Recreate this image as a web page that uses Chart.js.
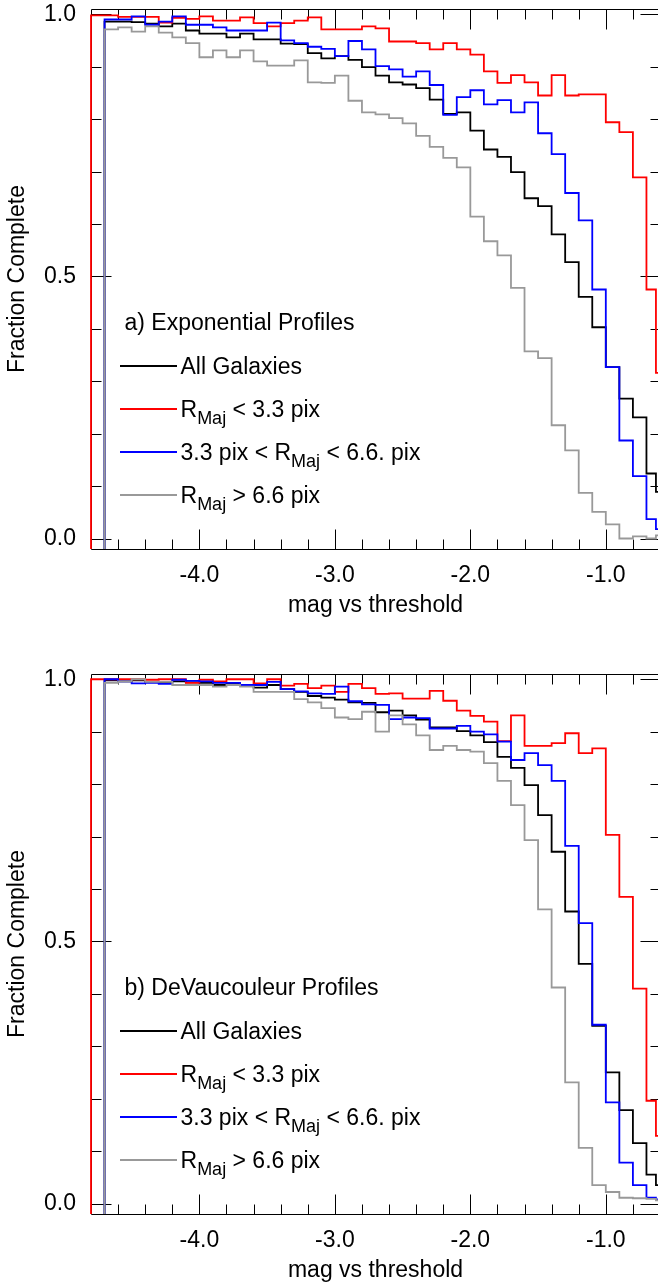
<!DOCTYPE html>
<html>
<head>
<meta charset="utf-8">
<script src="https://cdn.jsdelivr.net/npm/chart.js@4.4.1/dist/chart.umd.min.js"></script>
<style>
  html, body { margin: 0; padding: 0; background: #fff; width: 658px; height: 1286px; overflow: hidden; }
  .panel { position: absolute; left: 0; width: 662px; height: 640px; }
  .panel canvas { position: absolute; left: 0; top: 0; }
  .leg { position: absolute; font-family: "Liberation Sans", Arial, Helvetica, sans-serif; font-size: 23px; line-height: 23px; color: #000; white-space: nowrap; }
  .sub { font-size: 18px; position: relative; top: 7px; }
</style>
</head>
<body>
<div class="panel" id="p1" style="top:0px"><canvas id="c1" width="662" height="640"></canvas></div>
<div class="panel" id="p2" style="top:665px"><canvas id="c2" width="662" height="640"></canvas></div>
<script>
// ---------------- data ----------------
// left edges of the magnitude bins (mag vs threshold); last bin is partial
const BIN_EDGES = [-4.8, -4.7, -4.6, -4.5, -4.4, -4.3, -4.2, -4.1, -4.0, -3.9, -3.8, -3.7, -3.6, -3.5,
  -3.4, -3.3, -3.2, -3.1, -3.0, -2.9, -2.8, -2.7, -2.6, -2.5, -2.4, -2.3, -2.2, -2.1, -2.0, -1.9,
  -1.8, -1.7, -1.6, -1.5, -1.4, -1.3, -1.2, -1.1, -1.0, -0.9, -0.8, -0.7, -0.63];
const X_MIN = -4.8, X_MAX = -0.6;
const Y_MIN = -0.02, Y_MAX = 1.01;
const X_TICK_LABELS = [-4.0, -3.0, -2.0, -1.0];
const Y_TICK_LABELS = [0.0, 0.5, 1.0];

// a) Exponential profiles
const EXP_ALL   = [null, 0.986, 0.986, 0.985, 0.982, 0.977, 0.982, 0.969, 0.963, 0.963, 0.956, 0.963, 0.952, 0.952,
  0.944, 0.943, 0.926, 0.916, 0.920, 0.913, 0.899, 0.883, 0.870, 0.866, 0.859, 0.837, 0.810, 0.813, 0.778, 0.742,
  0.728, 0.699, 0.649, 0.634, 0.580, 0.527, 0.461, 0.403, 0.327, 0.267, 0.231, 0.124, 0.089];
const EXP_SMALL = [0.998, 0.998, 0.995, 0.995, 0.995, 0.984, 0.993, 0.991, 0.996, 0.988, 0.988, 0.994, 0.983, 0.977,
  0.983, 0.988, 0.994, 0.971, 0.971, 0.971, 0.977, 0.973, 0.948, 0.948, 0.945, 0.933, 0.945, 0.933, 0.923, 0.891,
  0.869, 0.884, 0.870, 0.845, 0.884, 0.845, 0.847, 0.847, 0.794, 0.775, 0.689, 0.475, 0.316];
const EXP_MID   = [null, 0.990, 0.990, 0.996, 0.980, 0.986, 0.996, 0.980, 0.980, 0.975, 0.969, 0.969, 0.969, 0.984,
  0.950, 0.945, 0.938, 0.934, 0.920, 0.949, 0.933, 0.901, 0.895, 0.881, 0.891, 0.865, 0.808, 0.842, 0.855, 0.828,
  0.836, 0.813, 0.832, 0.773, 0.733, 0.659, 0.607, 0.475, 0.327, 0.187, 0.119, 0.037, 0.018];
const EXP_LARGE = [null, 0.971, 0.975, 0.967, 0.977, 0.965, 0.956, 0.945, 0.918, 0.931, 0.918, 0.931, 0.910, 0.902,
  0.902, 0.912, 0.870, 0.869, 0.883, 0.835, 0.813, 0.809, 0.802, 0.792, 0.768, 0.747, 0.726, 0.708, 0.614, 0.567,
  0.540, 0.478, 0.357, 0.344, 0.216, 0.168, 0.087, 0.051, 0.027, 0.000, 0.004, 0.000, 0.006];

// b) DeVaucouleur profiles
const DEV_ALL   = [null, 0.998, 0.996, 0.998, 0.995, 0.993, 0.996, 0.994, 0.993, 0.989, 0.992, 0.989, 0.984, 0.989,
  0.981, 0.976, 0.968, 0.965, 0.961, 0.956, 0.955, 0.937, 0.940, 0.931, 0.923, 0.908, 0.908, 0.901, 0.893, 0.880,
  0.852, 0.831, 0.798, 0.741, 0.671, 0.557, 0.457, 0.339, 0.250, 0.178, 0.115, 0.055, 0.035];
const DEV_SMALL = [1.000, 1.000, 1.000, 1.000, 0.999, 1.000, 1.000, 0.993, 0.999, 0.996, 1.000, 1.000, 0.992, 1.000,
  0.988, 0.991, 0.983, 0.988, 0.976, 0.991, 0.983, 0.972, 0.973, 0.963, 0.963, 0.978, 0.959, 0.940, 0.930, 0.919,
  0.882, 0.931, 0.873, 0.873, 0.878, 0.897, 0.859, 0.868, 0.703, 0.585, 0.410, 0.196, 0.129];
const DEV_MID   = [null, 1.000, 0.996, 0.992, 0.993, 0.991, 0.999, 0.997, 0.996, 0.993, 0.993, 0.989, 0.989, 0.995,
  0.981, 0.977, 0.973, 0.972, 0.986, 0.958, 0.952, 0.951, 0.924, 0.927, 0.926, 0.906, 0.906, 0.911, 0.900, 0.895,
  0.881, 0.846, 0.859, 0.836, 0.806, 0.682, 0.535, 0.341, 0.193, 0.078, 0.035, 0.011, 0.008];
const DEV_LARGE = [null, 0.993, 0.996, 1.000, 0.995, 0.995, 0.989, 0.989, 0.989, 0.986, 0.989, 0.986, 0.976, 0.976,
  0.976, 0.962, 0.956, 0.945, 0.927, 0.924, 0.938, 0.900, 0.931, 0.914, 0.893, 0.865, 0.873, 0.865, 0.862, 0.840,
  0.806, 0.760, 0.693, 0.561, 0.412, 0.231, 0.106, 0.035, 0.022, 0.011, 0.010, 0.009, 0.006];

const SERIES_NAMES = ['All Galaxies', 'R_Maj < 3.3 pix', '3.3 pix < R_Maj < 6.6. pix', 'R_Maj > 6.6 pix'];
const SERIES_COLORS = ['#000000', '#ff0000', '#0000ff', '#999999'];
const PANEL_TITLES = ['a) Exponential Profiles', 'b) DeVaucouleur Profiles'];

// ---------------- drawing ----------------
const FONT = { family: '"Liberation Sans", Arial, Helvetica, sans-serif', size: 23 };
const LINE_W = 1.8;
const LEG = { titleX: 124.5, titleBase: 330.5, rowX: 180.5, rowBase0: 374, rowStep: 43, swX0: 120, swX1: 177 };

function stairs(values) {
  const pts = [];
  let started = false;
  for (let i = 0; i < values.length; i++) {
    const v = values[i];
    if (v === null) continue;
    const left = BIN_EDGES[i];
    const right = i + 1 < BIN_EDGES.length ? BIN_EDGES[i + 1] : X_MAX;
    if (!started) { pts.push({ x: left, y: Y_MIN }); started = true; }
    pts.push({ x: left, y: v }, { x: right, y: v });
  }
  return pts;
}

const frameTicks = {
  id: 'frameTicks',
  beforeDatasetsDraw(chart) {
    const { ctx, chartArea: a, scales: { x, y } } = chart;
    const L = Math.round(a.left) + 0.5, R = Math.round(a.right) + 0.5;
    const T = Math.round(a.top) + 0.5, B = Math.round(a.bottom) + 0.5;
    ctx.save();
    ctx.strokeStyle = '#000';
    ctx.lineWidth = 1;
    ctx.beginPath();
    ctx.rect(L, T, R - L, B - T);
    for (let k = 0; k <= 10; k++) {
      const py = Math.round(y.getPixelForValue(k / 10)) + 0.5;
      const len = (k % 5 === 0) ? 20 : 10;
      ctx.moveTo(L, py); ctx.lineTo(L + len, py);
      ctx.moveTo(R, py); ctx.lineTo(R - len, py);
    }
    for (let k = -23; k <= -4; k++) {
      const px = Math.round(x.getPixelForValue(k / 5)) + 0.5;
      const len = (k % 5 === 0) ? 20 : 10;
      ctx.moveTo(px, B); ctx.lineTo(px, B - len);
      ctx.moveTo(px, T); ctx.lineTo(px, T + len);
    }
    ctx.stroke();
    // legend swatches
    ctx.lineWidth = LINE_W;
    for (let i = 0; i < SERIES_COLORS.length; i++) {
      const yy = LEG.rowBase0 + i * LEG.rowStep - 8;
      ctx.strokeStyle = SERIES_COLORS[i];
      ctx.beginPath();
      ctx.moveTo(LEG.swX0, yy); ctx.lineTo(LEG.swX1, yy);
      ctx.stroke();
    }
    ctx.restore();
  }
};

function makeChart(canvasId, seriesList) {
  const order = [4, 3, 2, 1];
  return new Chart(document.getElementById(canvasId), {
    type: 'line',
    data: {
      datasets: seriesList.map((vals, i) => ({
        label: SERIES_NAMES[i],
        data: stairs(vals),
        borderColor: SERIES_COLORS[i],
        borderWidth: LINE_W,
        pointRadius: 0,
        fill: false,
        tension: 0,
        clip: 3,
        order: order[i]
      }))
    },
    options: {
      responsive: false,
      animation: false,
      devicePixelRatio: 1,
      layout: { padding: { top: 9, right: 2, left: 0, bottom: 0 } },
      plugins: { legend: { display: false }, tooltip: { enabled: false } },
      scales: {
        x: {
          type: 'linear', min: X_MIN, max: X_MAX,
          grid: { display: false, drawTicks: false }, border: { display: false },
          afterBuildTicks: s => { s.ticks = X_TICK_LABELS.map(v => ({ value: v })); },
          afterFit: s => { s.height = 91; s.paddingLeft = 0; s.paddingRight = 0; s.paddingTop = 0; s.paddingBottom = 0; },
          ticks: { font: FONT, color: '#000', padding: 13, maxRotation: 0, autoSkip: false, callback: v => Number(v).toFixed(1) },
          title: { display: true, text: 'mag vs threshold', font: FONT, color: '#000', padding: { top: 0, bottom: 21 } }
        },
        y: {
          type: 'linear', min: Y_MIN, max: Y_MAX,
          grid: { display: false, drawTicks: false }, border: { display: false },
          afterBuildTicks: s => { s.ticks = Y_TICK_LABELS.map(v => ({ value: v })); },
          afterFit: s => { s.width = 91; s.paddingLeft = 0; s.paddingRight = 0; s.paddingTop = 0; s.paddingBottom = 0; },
          ticks: { font: FONT, color: '#000', padding: 15, autoSkip: false, callback: v => Number(v).toFixed(1) },
          title: { display: true, text: 'Fraction Complete', font: FONT, color: '#000', padding: { top: 4, bottom: 0 } }
        }
      }
    },
    plugins: [frameTicks]
  });
}

function addText(panel, text, left, baseline) {
  const div = document.createElement('div');
  div.className = 'leg';
  div.style.left = left + 'px';
  div.style.top = (baseline - 19.5) + 'px';
  const parts = text.split(/(_Maj)/);
  parts.forEach(p => {
    if (p === '_Maj') {
      const s = document.createElement('span');
      s.className = 'sub';
      s.textContent = 'Maj';
      div.appendChild(s);
    } else if (p) {
      div.appendChild(document.createTextNode(p));
    }
  });
  panel.appendChild(div);
}

function addLegend(panelId, title) {
  const panel = document.getElementById(panelId);
  addText(panel, title, LEG.titleX, LEG.titleBase);
  SERIES_NAMES.forEach((n, i) => addText(panel, n, LEG.rowX, LEG.rowBase0 + i * LEG.rowStep));
}

makeChart('c1', [EXP_ALL, EXP_SMALL, EXP_MID, EXP_LARGE]);
makeChart('c2', [DEV_ALL, DEV_SMALL, DEV_MID, DEV_LARGE]);
addLegend('p1', PANEL_TITLES[0]);
addLegend('p2', PANEL_TITLES[1]);
</script>
</body>
</html>
